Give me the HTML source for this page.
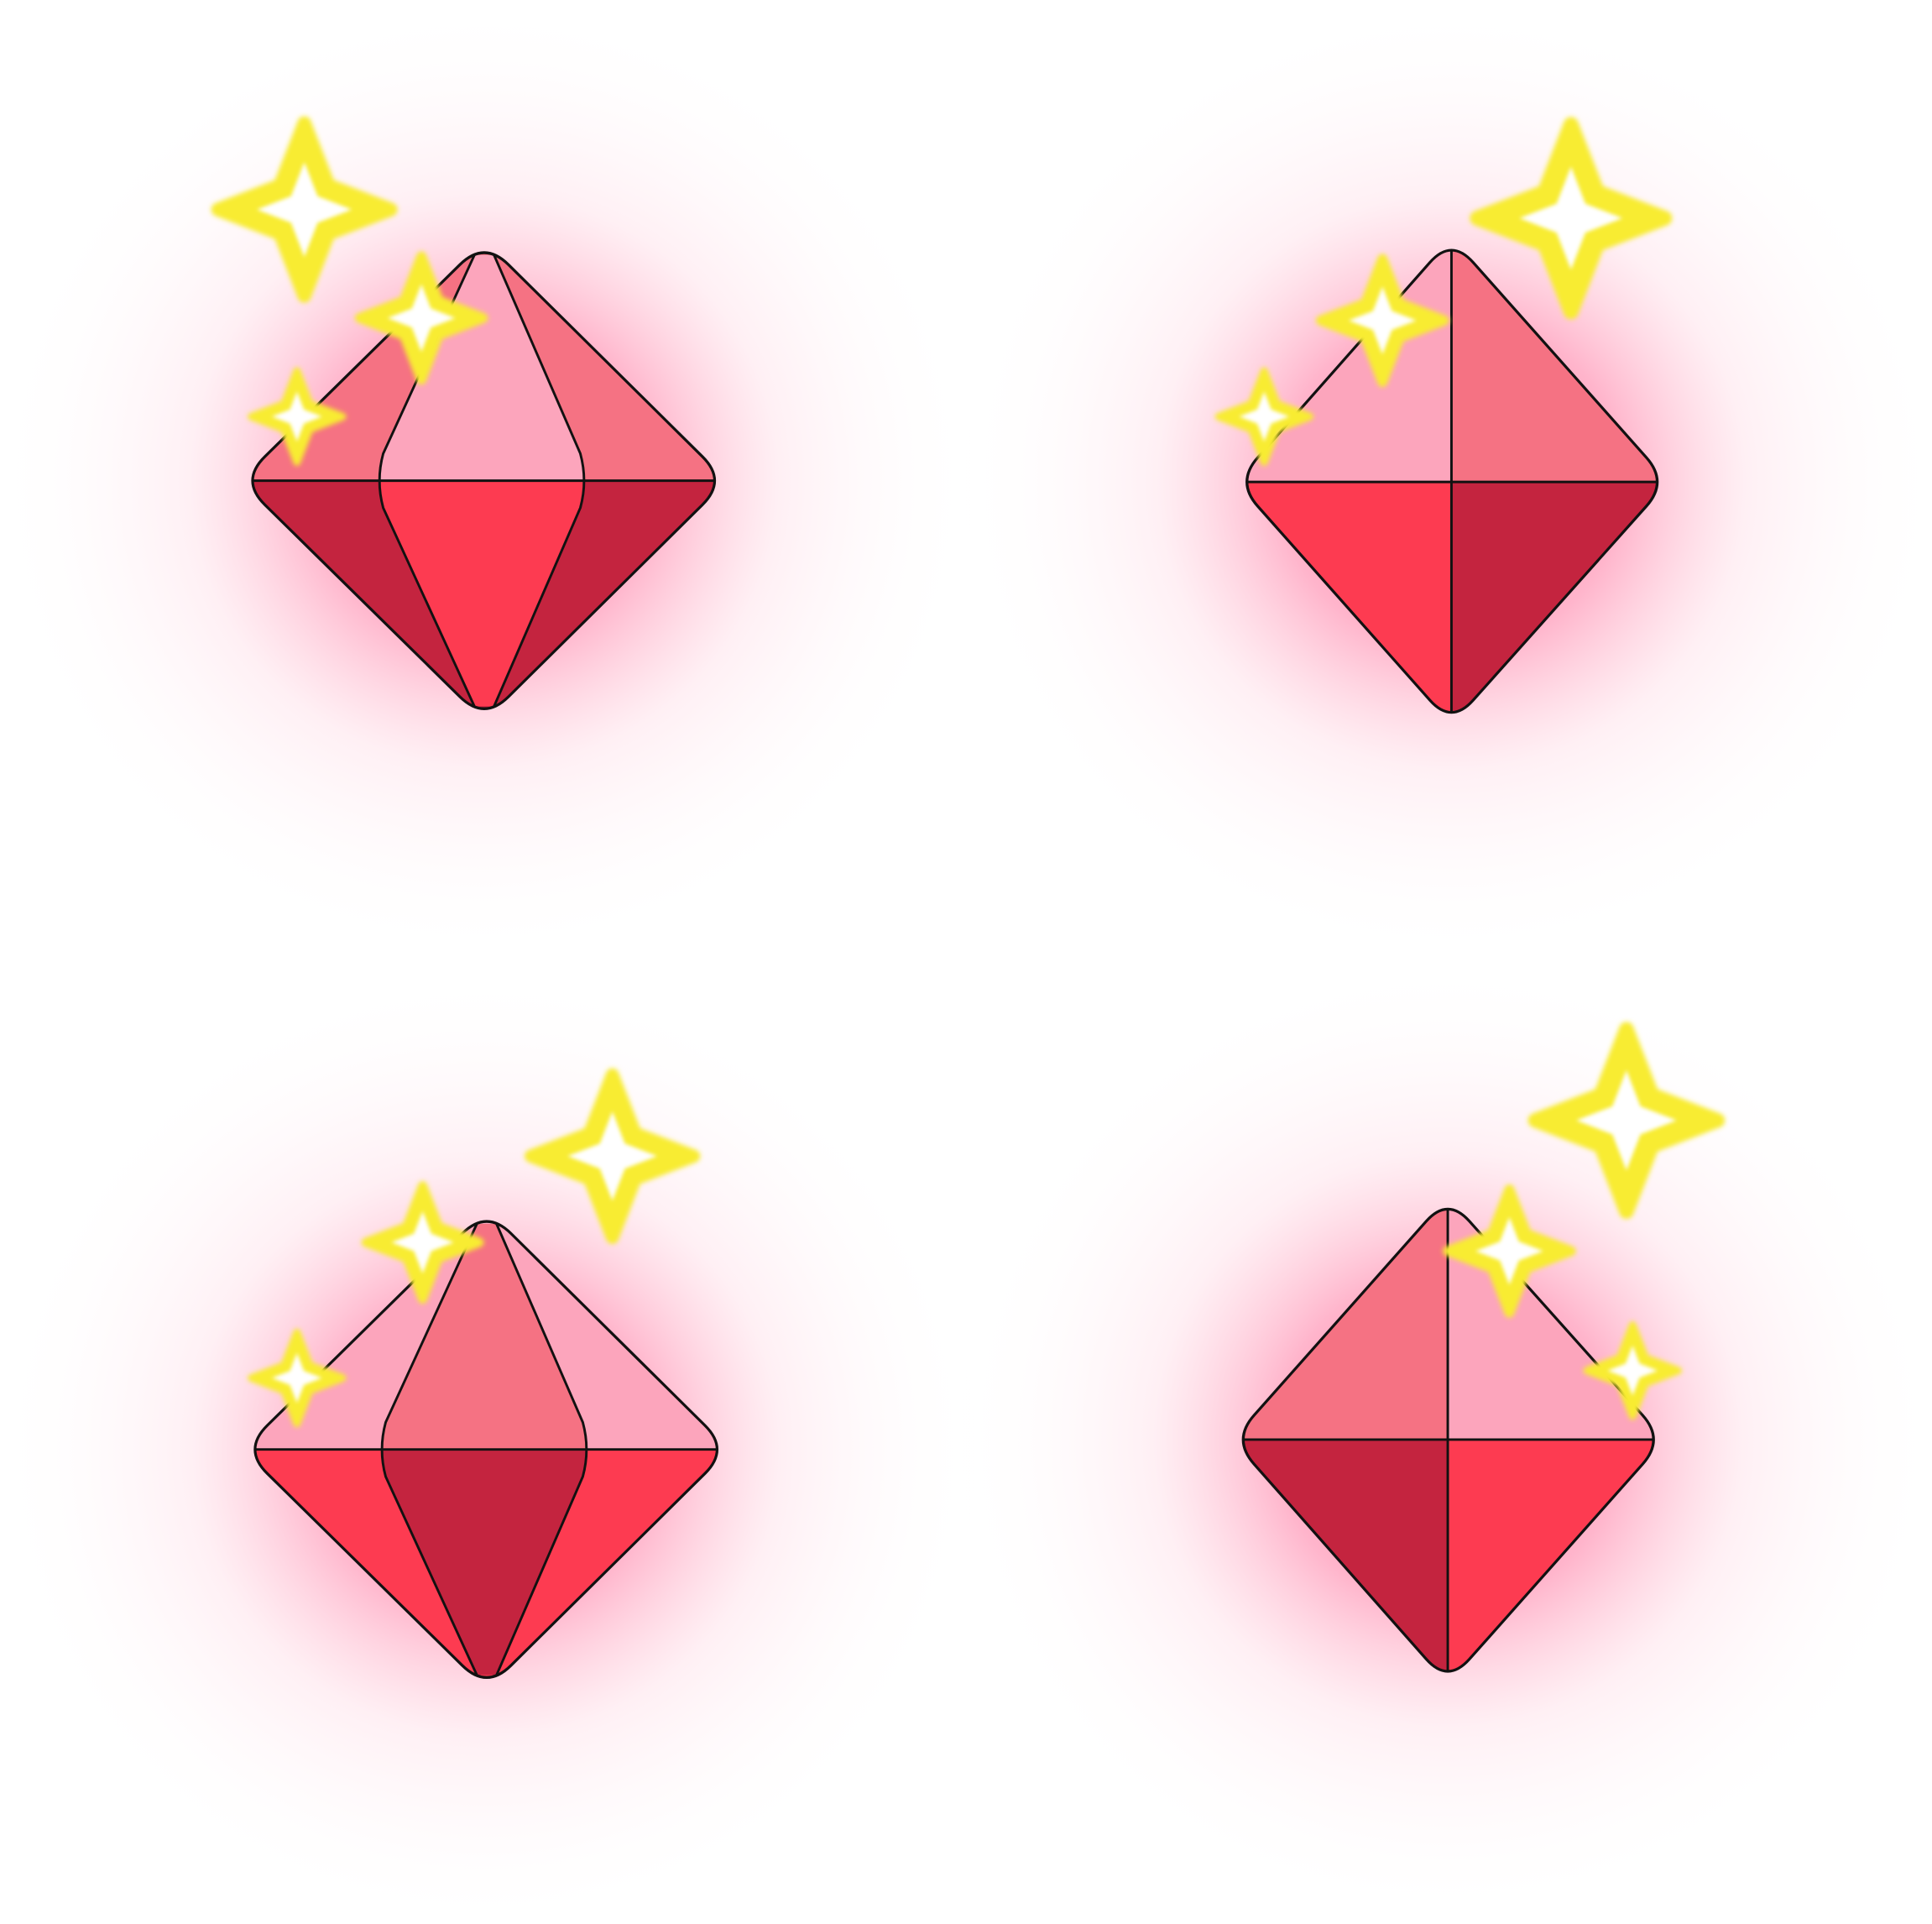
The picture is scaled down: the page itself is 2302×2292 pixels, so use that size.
<!DOCTYPE html>
<html><head><meta charset="utf-8"><style>
html,body{margin:0;padding:0;background:#fff;}
svg{display:block;}
</style></head><body>
<svg id="s" width="2302" height="2292" viewBox="0 0 1568 1561" preserveAspectRatio="none" xmlns="http://www.w3.org/2000/svg">
<defs>
<radialGradient id="glow"><stop offset="0" stop-color="#ff2a6a" stop-opacity="0.7"/><stop offset="0.35" stop-color="#ff4f85" stop-opacity="0.42"/><stop offset="0.6" stop-color="#ff9ab8" stop-opacity="0.15"/><stop offset="1" stop-color="#fff" stop-opacity="0"/></radialGradient>
<filter id="blur" x="-50%" y="-50%" width="200%" height="200%"><feGaussianBlur stdDeviation="2"/></filter>
<filter id="blur2" x="-50%" y="-50%" width="200%" height="200%"><feGaussianBlur stdDeviation="3"/></filter>
</defs>
</svg>
<script>
const NS="http://www.w3.org/2000/svg";
const svg=document.getElementById('s');
const gems=[
 {cx:393,top:205,bot:575,l:205,r:580,mid:390,type:'a',c:['#f57283','#fca5bc','#f57283','#c4243f','#fd3b51','#c4243f']},
 {cx:1178,top:203,bot:578,l:1012,r:1345,mid:391,type:'b',c:['#fca5bc','#f57283','#fd3b51','#c4243f']},
 {cx:395,top:991,bot:1361,l:207,r:582,mid:1176,type:'a',c:['#fca5bc','#f57283','#fca5bc','#fd3b51','#c4243f','#fd3b51']},
 {cx:1175,top:981,bot:1356,l:1009,r:1342,mid:1168,type:'b',c:['#f57283','#fca5bc','#c4243f','#fd3b51']}
];
const sparks=[[247,170,70],[342,258,50],[241,338,37],[1275,177,76],[1122,260,50],[1026,338,37],[497,938,66],[343,1008,46],[241,1118,37],[1320,909,74],[1225,1015,50],[1325,1112,37]];
function el(t,a,p){const e=document.createElementNS(NS,t);for(const k in a)e.setAttribute(k,a[k]);(p||svg).appendChild(e);return e;}
gems.forEach((g,i)=>{
 const e=el('ellipse',{cx:g.cx,cy:g.mid,rx:400,ry:390,fill:'url(#glow)'});
 
 
});
function lerp(a,b,t){return [a[0]+(b[0]-a[0])*t,a[1]+(b[1]-a[1])*t];}
gems.forEach((g,i)=>{
 const grp=el('g',{});
 
 
 const f=0.1,e=(f/2)/(1-f/2);
 const T=[g.cx,g.top-e*(g.mid-g.top)],B=[g.cx,g.bot+e*(g.bot-g.mid)],L=[g.l-e*(g.cx-g.l),g.mid],R=[g.r+e*(g.r-g.cx),g.mid];
 const pts=[T,R,B,L];
 let d='';
 for(let k=0;k<4;k++){const P=pts[k],prev=pts[(k+3)%4],next=pts[(k+1)%4];
  const a=lerp(P,prev,f),b=lerp(P,next,f);
  d+=(k==0?'M':'L')+a[0]+','+a[1]+' Q'+P[0]+','+P[1]+' '+b[0]+','+b[1]+' ';}
 d+='Z';
 const cid='clip'+i;
 const cp=el('clipPath',{id:cid},svg.querySelector('defs'));el('path',{d:d},cp);
 const fg=el('g',{'clip-path':'url(#'+cid+')'},grp);
 const X0=g.l-30,X1=g.r+30,Y0=g.top-30,Y1=g.bot+30;
 if(g.type=='b'){
  el('rect',{x:X0,y:Y0,width:g.cx-X0,height:g.mid-Y0,fill:g.c[0]},fg);
  el('rect',{x:g.cx,y:Y0,width:X1-g.cx,height:g.mid-Y0,fill:g.c[1]},fg);
  el('rect',{x:X0,y:g.mid,width:g.cx-X0,height:Y1-g.mid,fill:g.c[2]},fg);
  el('rect',{x:g.cx,y:g.mid,width:X1-g.cx,height:Y1-g.mid,fill:g.c[3]},fg);
  el('path',{d:`M${g.cx},${g.top-20} L${g.cx},${g.bot+20} M${g.l-20},${g.mid} L${g.r+20},${g.mid}`,stroke:'#111',fill:'none','stroke-width':2},fg);
 }else{
  const il=g.cx-86,ir=g.cx+82;
  el('rect',{x:X0,y:Y0,width:X1-X0,height:g.mid-Y0,fill:g.c[0]},fg);
  el('rect',{x:X0,y:g.mid,width:X1-X0,height:Y1-g.mid,fill:g.c[3]},fg);
  el('path',{d:`M${g.cx-8},${g.top+2} L${il+4},${g.mid-22} Q${il-2},${g.mid} ${il+4},${g.mid} L${ir-4},${g.mid} Q${ir+2},${g.mid} ${ir-4},${g.mid-22} L${g.cx+8},${g.top+2} Z`,fill:g.c[1]},fg);
  el('path',{d:`M${g.cx-8},${g.bot-2} L${il+4},${g.mid+22} Q${il-2},${g.mid} ${il+4},${g.mid} L${ir-4},${g.mid} Q${ir+2},${g.mid} ${ir-4},${g.mid+22} L${g.cx+8},${g.bot-2} Z`,fill:g.c[4]},fg);
  el('path',{d:`M${g.cx-8},${g.top+2} L${il+4},${g.mid-22} Q${il-2},${g.mid} ${il+4},${g.mid+22} L${g.cx-8},${g.bot-2} M${g.cx+8},${g.top+2} L${ir-4},${g.mid-22} Q${ir+2},${g.mid} ${ir-4},${g.mid+22} L${g.cx+8},${g.bot-2} M${g.l-20},${g.mid} L${g.r+20},${g.mid}`,stroke:'#111',fill:'none','stroke-width':2},fg);
 }
 el('path',{d:d,fill:'none',stroke:'#111','stroke-width':2.2},grp);
});
sparks.forEach(s=>{
 const [x,y,r]=s;const q=0.28*r;
 const d=`M${x},${y-r} L${x+q},${y-q} L${x+r},${y} L${x+q},${y+q} L${x},${y+r} L${x-q},${y+q} L${x-r},${y} L${x-q},${y-q} Z`;
 const g=el('g',{});
 
 
 el('path',{d:d,fill:'#f8ec30',stroke:'#f8ec30','stroke-width':r*0.16,'stroke-linejoin':'round',filter:'url(#blur)'},g);
 el('path',{d:d,fill:'#fff',transform:`translate(${x},${y}) scale(0.55) translate(${-x},${-y})`,filter:'url(#blur2)'},g);
});
</script>
</body></html>
